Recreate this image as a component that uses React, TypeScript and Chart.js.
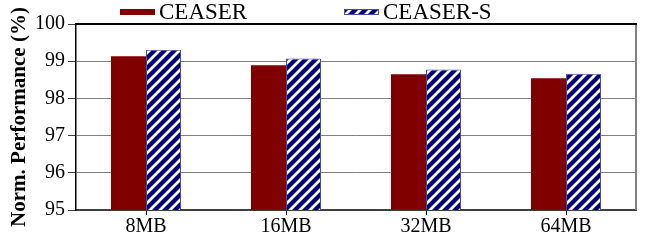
import React, { useEffect, useRef } from "react";
import { Chart, registerables } from "chart.js";

Chart.register(...registerables);

const categories = ["8MB", "16MB", "32MB", "64MB"];
const seriesNames = ["CEASER", "CEASER-S"];
const ceaser = [99.13, 98.89, 98.65, 98.54];
const ceaserS = [99.31, 99.07, 98.78, 98.66];
const yMin = 95;
const yMax = 100;
const yStep = 1;
const yTitle = "Norm. Performance (%)";

const SERIF = "'Liberation Serif', 'Times New Roman', serif";
const MAROON = "#800000";
const NAVY = "#000080";

function makeStripePattern(): CanvasPattern | string {
  const p = 10;
  const c = document.createElement("canvas");
  c.width = p;
  c.height = p;
  const g = c.getContext("2d");
  if (!g) return NAVY;
  g.fillStyle = NAVY;
  g.fillRect(0, 0, p, p);
  g.strokeStyle = "#ffffff";
  g.lineWidth = 2.8;
  g.beginPath();
  for (let k = -1; k <= 1; k++) {
    g.moveTo(k * p - 1, p + 1);
    g.lineTo(k * p + p + 1, -1);
  }
  g.stroke();
  const pat = g.createPattern(c, "repeat");
  return pat || NAVY;
}

export default function App() {
  const ref = useRef<HTMLCanvasElement | null>(null);

  useEffect(() => {
    if (!ref.current) return;
    const stripes = makeStripePattern();

    const legendPlugin = {
      id: "customLegend",
      afterDraw(chart: any) {
        const { ctx, chartArea } = chart;
        const items = [
          { label: seriesNames[0], fill: MAROON, border: MAROON },
          { label: seriesNames[1], fill: stripes, border: "#4a4aa8" },
        ];
        const startX = chartArea.left + 44;
        const spacing = 224;
        const boxW = 35;
        const boxH = 6;
        const cy = 12;
        ctx.save();
        ctx.font = `23px ${SERIF}`;
        ctx.textBaseline = "middle";
        ctx.fillStyle = "#000";
        items.forEach((it, i) => {
          const x = startX + i * spacing;
          ctx.fillStyle = it.fill;
          ctx.fillRect(x, cy - boxH / 2, boxW, boxH);
          if (i === 1) {
            ctx.strokeStyle = it.border;
            ctx.lineWidth = 1;
            ctx.strokeRect(x + 0.5, cy - boxH / 2 + 0.5, boxW - 1, boxH - 1);
          }
          ctx.fillStyle = "#000";
          ctx.fillText(it.label, x + boxW + 4, cy + 1);
        });
        ctx.restore();
      },
    };

    const framePlugin = {
      id: "frame",
      afterDatasetsDraw(chart: any) {
        const { ctx, chartArea } = chart;
        ctx.save();
        ctx.strokeStyle = "#808080";
        ctx.lineWidth = 2;
        ctx.beginPath();
        ctx.moveTo(chartArea.right, chartArea.top);
        ctx.lineTo(chartArea.right, chartArea.bottom);
        ctx.stroke();
        ctx.strokeStyle = "#000";
        ctx.lineWidth = 2;
        ctx.beginPath();
        ctx.moveTo(chartArea.left, chartArea.top);
        ctx.lineTo(chartArea.right + 1, chartArea.top);
        ctx.stroke();
        ctx.restore();
      },
    };

    const chart = new Chart(ref.current, {
      type: "bar",
      data: {
        labels: categories,
        datasets: [
          {
            label: seriesNames[0],
            data: ceaser,
            backgroundColor: MAROON,
            borderWidth: 0,
            categoryPercentage: 0.5,
            barPercentage: 1,
          },
          {
            label: seriesNames[1],
            data: ceaserS,
            backgroundColor: stripes as any,
            borderColor: "#4a4aa8",
            borderWidth: 1,
            categoryPercentage: 0.5,
            barPercentage: 1,
          },
        ],
      },
      options: {
        responsive: false,
        animation: false,
        layout: { padding: { top: 24, right: 11, left: 0, bottom: 0 } },
        plugins: {
          legend: { display: false },
          tooltip: { enabled: false },
        },
        scales: {
          x: {
            afterFit: (s: any) => {
              s.height = 35;
            },
            grid: {
              offset: false,
              drawOnChartArea: false,
              drawTicks: true,
              tickLength: 5,
              color: "#000",
            },
            border: { color: "#404040", width: 2 },
            ticks: {
              color: "#000",
              font: { family: SERIF, size: 20 },
              padding: 0,
            },
          },
          y: {
            min: yMin,
            max: yMax,
            afterFit: (s: any) => {
              s.width = 76;
            },
            ticks: {
              stepSize: yStep,
              color: "#000",
              font: { family: SERIF, size: 20 },
              padding: 3,
            },
            grid: {
              color: "#808080",
              lineWidth: 1,
              tickLength: 8,
              tickColor: "#404040",
            },
            border: { color: "#000", width: 1.5 },
            title: {
              display: true,
              text: yTitle,
              color: "#000",
              font: { family: SERIF, size: 21, weight: "bold" },
              padding: { top: 7, bottom: 0 },
            },
          },
        },
      },
      plugins: [legendPlugin, framePlugin],
    });
    return () => chart.destroy();
  }, []);

  return (
    <div style={{ position: "absolute", left: 0, top: 0, width: 647, height: 245, background: "#fff" }}>
      <canvas ref={ref} width={647} height={245} style={{ width: 647, height: 245, display: "block" }} />
    </div>
  );
}
